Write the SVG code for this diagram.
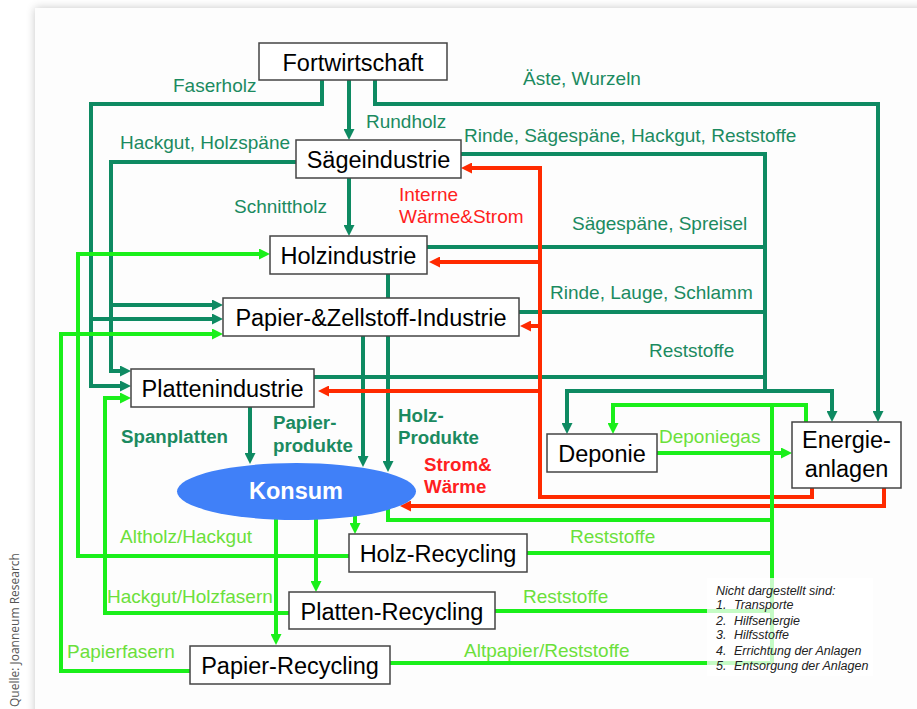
<svg xmlns="http://www.w3.org/2000/svg" width="917" height="709" viewBox="0 0 917 709">
<defs>
<filter id="sh" x="-5%" y="-5%" width="110%" height="110%"><feGaussianBlur stdDeviation="5"/></filter>
<marker id="ad" viewBox="0 0 11 11" refX="2" refY="5.5" markerWidth="11" markerHeight="11" markerUnits="userSpaceOnUse" orient="auto"><path d="M0,0 L11,5.5 L0,11 z" fill="#0e8a62"/></marker>
<marker id="ar" viewBox="0 0 11 11" refX="2" refY="5.5" markerWidth="11" markerHeight="11" markerUnits="userSpaceOnUse" orient="auto"><path d="M0,0 L11,5.5 L0,11 z" fill="#ff2a00"/></marker>
<marker id="al" viewBox="0 0 11 11" refX="2" refY="5.5" markerWidth="11" markerHeight="11" markerUnits="userSpaceOnUse" orient="auto"><path d="M0,0 L11,5.5 L0,11 z" fill="#1aef1a"/></marker>
</defs>
<style>
.box{fill:#fff;stroke:#444;stroke-width:1.5}
.nt{font-family:"Liberation Sans",Arial,sans-serif;font-size:23.5px;fill:#000;text-anchor:middle}
.cd{fill:none;stroke:#0e8a62;stroke-width:4}
.cr{fill:none;stroke:#ff2a00;stroke-width:4}
.cl{fill:none;stroke:#1aef1a;stroke-width:4}
.md{marker-end:url(#ad)}
.mr{marker-end:url(#ar)}
.ml{marker-end:url(#al)}
.lb{font-family:"Liberation Sans",Arial,sans-serif;font-size:19px}
.ld{fill:#1b8a60}
.lr{fill:#ff2020}
.ll{fill:#6be03a}
.b{font-weight:bold;font-size:18.7px}
.note{font-family:"Liberation Sans",Arial,sans-serif;font-size:12.5px;font-style:italic;fill:#222}
</style>
<rect x="0" y="0" width="917" height="709" fill="#ffffff"/>
<rect x="35" y="8" width="900" height="720" fill="#000" opacity="0.22" filter="url(#sh)"/>
<rect x="35" y="8" width="882" height="701" fill="#fdfdfd"/>
<text transform="translate(19,707) rotate(-90)" font-family="'Open Sans','DejaVu Sans',sans-serif" font-size="12" fill="#555">Quelle: Joanneum Research</text>

<g id="connectors">
<path class="cd md" d="M349,80 V131"/>
<path class="cd md" d="M349,178 V227"/>
<path class="cd md" d="M322,80 V104 H91 V386 H122"/>
<path class="cd md" d="M91,319 H214"/>
<path class="cd md" d="M296,162 H111 V371 H122"/>
<path class="cd md" d="M111,305 H214"/>
<path class="cd md" d="M375,80 V104 H878 V413"/>
<path class="cd" d="M461,154 H765 V391"/>
<path class="cd md" d="M765,391 H567 V425"/>
<path class="cd md" d="M765,391 H832 V413"/>
<path class="cd" d="M427,247 H765"/>
<path class="cd" d="M519,312 H765"/>
<path class="cd" d="M314,377 H765"/>
<path class="cd md" d="M388,274 V463"/>
<path class="cd md" d="M363,336 V458"/>
<path class="cd md" d="M250,407 V455"/>

<path class="cr mr" d="M812,488 V497 H540 V168 H470"/>
<path class="cr mr" d="M540,262 H438"/>
<path class="cr mr" d="M540,326 H529"/>
<path class="cr mr" d="M540,391 H327"/>
<path class="cr mr" d="M884,488 V506 H409"/>

<path class="cl ml" d="M806,422 V405 H613 V425"/>
<path class="cl" d="M772,405 V663"/>
<path class="cl ml" d="M657,453 H783"/>
<path class="cl" d="M388,505 V520 H772"/>
<path class="cl ml" d="M355,515 V525"/>
<path class="cl ml" d="M316,515 V583"/>
<path class="cl ml" d="M276,515 V636"/>
<path class="cl" d="M527,553 H772"/>
<path class="cl" d="M495,611 H772"/>
<path class="cl" d="M390,663 H772"/>
<path class="cl ml" d="M349,556 H78 V254 H261"/>
<path class="cl ml" d="M289,613 H105 V398 H122"/>
<path class="cl ml" d="M190,671 H61 V334 H214"/>
</g>

<g id="n-fortwirtschaft"><rect class="box" x="259" y="43" width="188" height="37"/><text class="nt" x="353" y="71">Fortwirtschaft</text></g>
<g id="n-saege"><rect class="box" x="296" y="140" width="165" height="38"/><text class="nt" x="378.5" y="168">Sägeindustrie</text></g>
<g id="n-holz"><rect class="box" x="270" y="236" width="157" height="38"/><text class="nt" x="348.5" y="264">Holzindustrie</text></g>
<g id="n-papier"><rect class="box" x="223" y="298" width="296" height="38"/><text class="nt" x="371" y="326">Papier-&amp;Zellstoff-Industrie</text></g>
<g id="n-platten"><rect class="box" x="131" y="369" width="183" height="38"/><text class="nt" x="222.5" y="397">Plattenindustrie</text></g>
<g id="n-deponie"><rect class="box" x="547" y="434" width="110" height="38"/><text class="nt" x="602" y="462">Deponie</text></g>
<g id="n-energie"><rect class="box" x="792" y="422" width="109" height="66"/><text class="nt" x="846.5" y="448">Energie-</text><text class="nt" x="846.5" y="477">anlagen</text></g>
<g id="n-konsum"><ellipse cx="296.5" cy="491.5" rx="119.5" ry="28.5" fill="#4080f8"/><text class="nt" x="296" y="499" style="fill:#fff;font-weight:bold">Konsum</text></g>
<g id="n-holzrec"><rect class="box" x="349" y="534" width="178" height="38"/><text class="nt" x="438" y="562">Holz-Recycling</text></g>
<g id="n-plattenrec"><rect class="box" x="289" y="592" width="206" height="37"/><text class="nt" x="392" y="620">Platten-Recycling</text></g>
<g id="n-papierrec"><rect class="box" x="190" y="646" width="200" height="38"/><text class="nt" x="290" y="674">Papier-Recycling</text></g>

<g id="labels">
<text class="lb ld" x="173" y="92">Faserholz</text>
<text class="lb ld" x="366" y="128">Rundholz</text>
<text class="lb ld" x="120" y="149">Hackgut, Holzspäne</text>
<text class="lb ld" x="234" y="213">Schnittholz</text>
<text class="lb ld" x="523" y="85">Äste, Wurzeln</text>
<text class="lb ld" x="464" y="142">Rinde, Sägespäne, Hackgut, Reststoffe</text>
<text class="lb lr" x="399" y="201">Interne</text>
<text class="lb lr" x="399" y="223">Wärme&amp;Strom</text>
<text class="lb ld" x="572" y="230">Sägespäne, Spreisel</text>
<text class="lb ld" x="550" y="299">Rinde, Lauge, Schlamm</text>
<text class="lb ld" x="649" y="357">Reststoffe</text>
<text class="lb ld b" x="121" y="443">Spanplatten</text>
<text class="lb ld b" x="273" y="429">Papier-</text>
<text class="lb ld b" x="273" y="452">produkte</text>
<text class="lb ld b" x="398" y="422">Holz-</text>
<text class="lb ld b" x="398" y="444">Produkte</text>
<text class="lb lr b" x="424" y="471">Strom&amp;</text>
<text class="lb lr b" x="424" y="493">Wärme</text>
<text class="lb ll" x="659" y="443">Deponiegas</text>
<text class="lb ll" x="120" y="543">Altholz/Hackgut</text>
<text class="lb ll" x="570" y="543">Reststoffe</text>
<text class="lb ll" x="107" y="603">Hackgut/Holzfasern</text>
<text class="lb ll" x="523" y="603">Reststoffe</text>
<text class="lb ll" x="67" y="658">Papierfasern</text>
<text class="lb ll" x="464" y="657">Altpapier/Reststoffe</text>
</g>

<g id="note">
<rect x="707" y="578" width="166" height="98" fill="#fff" opacity="0.75"/>
<text class="note" x="716" y="595">Nicht dargestellt sind:</text>
<text class="note" x="716" y="609">1.</text><text class="note" x="734" y="609">Transporte</text>
<text class="note" x="716" y="625">2.</text><text class="note" x="734" y="625">Hilfsenergie</text>
<text class="note" x="716" y="639">3.</text><text class="note" x="734" y="639">Hilfsstoffe</text>
<text class="note" x="716" y="655">4.</text><text class="note" x="734" y="655">Errichtung der Anlagen</text>
<text class="note" x="716" y="670">5.</text><text class="note" x="734" y="670">Entsorgung der Anlagen</text>
</g>
</svg>
